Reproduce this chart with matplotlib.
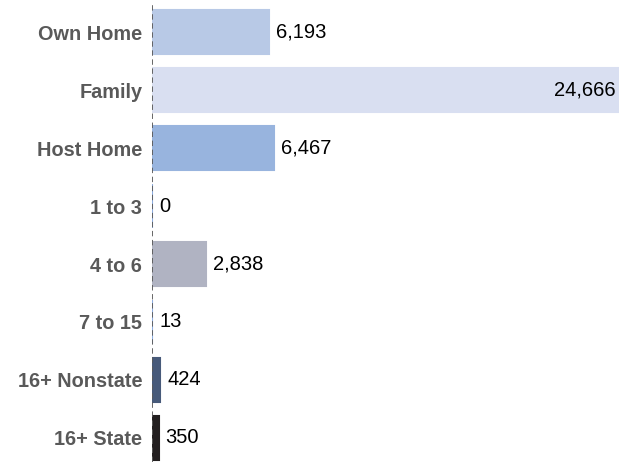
import matplotlib.pyplot as plt

# data
categories = ['Own Home', 'Family', 'Host Home', '1 to 3', '4 to 6', '7 to 15',
              '16+ Nonstate', '16+ State']
values = [6193, 24666, 6467, 0, 2838, 13, 424, 350]
colors = ['#b8c9e6', '#d9dff1', '#98b4de', '#8eaee0', '#b0b3c2', '#8eaee0',
          '#475a7a', '#231f20']

plt.rcParams['font.family'] = ['Liberation Sans', 'DejaVu Sans']

fig = plt.figure(figsize=(6.19, 4.62), dpi=100)
ax = fig.add_axes([152 / 619, 0, 467 / 619, 1])

y = list(range(len(categories)))
ax.barh(y, values, height=0.75, color=colors, edgecolor=colors, linewidth=1.5)

ax.set_xlim(0, 24666)
ax.set_ylim(7.414, -0.552)

# value labels
for i, v in enumerate(values):
    txt = f'{v:,}'
    if v > 20000:
        ax.annotate(txt, (v, i), xytext=(-3, 0), textcoords='offset pixels',
                    ha='right', va='center', fontsize=14.5, color='black')
    else:
        ax.annotate(txt, (v, i), xytext=(7, 0), textcoords='offset pixels',
                    ha='left', va='center', fontsize=14.5, color='black')

ax.axvline(0, ymin=0, ymax=1 - 5 / 462, color='#5a5a5a', linestyle=(0, (3, 2)),
           linewidth=1.3)

ax.set_yticks(y)
ax.set_yticklabels(categories, fontsize=14.3, fontweight='bold', color='#595959')
ax.tick_params(axis='y', length=0, pad=7)
ax.set_xticks([])
for s in ax.spines.values():
    s.set_visible(False)

plt.savefig('out.png', dpi=100)
